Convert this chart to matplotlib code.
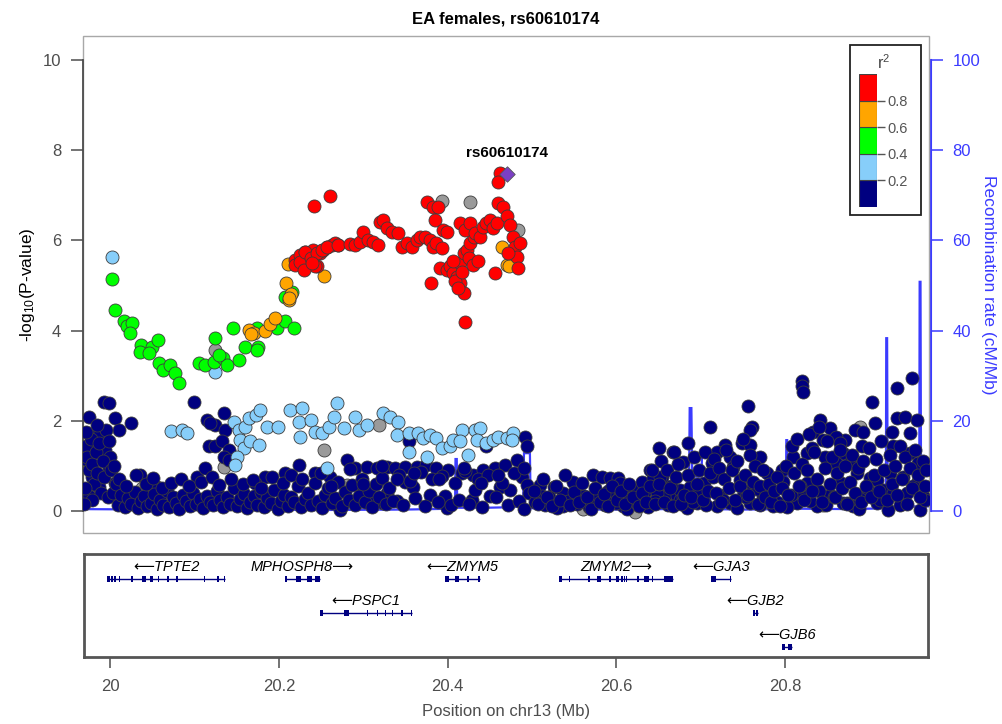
import numpy as np
import matplotlib.pyplot as plt
from matplotlib.patches import Rectangle

plt.rcParams['font.family'] = ['Liberation Sans', 'DejaVu Sans']
plt.rcParams['mathtext.fontset'] = 'custom'
plt.rcParams['mathtext.rm'] = 'Liberation Sans'
plt.rcParams['mathtext.it'] = 'Liberation Sans:italic'

# ---- association results, grouped by LD (r^2) bin with the lead SNP ----
lead_snp = 'rs60610174'
lead_pos = 20.4704
lead_logp = 7.47

red_pos = [20.2417, 20.2614, 20.2196, 20.2255, 20.2315, 20.2374, 20.2413, 20.2453, 20.2492, 20.253,
           20.257, 20.263, 20.267, 20.271, 20.22, 20.226, 20.232, 20.238, 20.2436, 20.2456,
           20.2516, 20.2575, 20.2705, 20.23, 20.24, 20.2847, 20.2906, 20.2965, 20.3004, 20.3063,
           20.3122, 20.318, 20.3202, 20.324, 20.328, 20.334, 20.342, 20.346, 20.352, 20.358,
           20.3636, 20.3675, 20.3734, 20.379, 20.383, 20.387, 20.393, 20.3754, 20.383, 20.389,
           20.385, 20.395, 20.399, 20.391, 20.399, 20.403, 20.407, 20.411, 20.415, 20.419,
           20.381, 20.415, 20.419, 20.423, 20.427, 20.431, 20.415, 20.421, 20.427, 20.4325,
           20.4384, 20.4423, 20.446, 20.45, 20.454, 20.458, 20.46, 20.466, 20.47, 20.474,
           20.478, 20.48, 20.482, 20.484, 20.486, 20.472, 20.462, 20.46, 20.456, 20.4207,
           20.409, 20.413, 20.417, 20.406, 20.425, 20.43, 20.436]
red_logp = [6.76, 6.98, 5.56, 5.68, 5.75, 5.64, 5.79, 5.42, 5.71, 5.79,
            5.86, 5.90, 5.94, 5.90, 5.45, 5.53, 5.75, 5.60, 5.42, 5.71,
            5.79, 5.86, 5.90, 5.34, 5.49, 5.92, 5.90, 5.97, 6.19, 6.01,
            5.97, 5.90, 6.41, 6.45, 6.27, 6.19, 6.16, 5.86, 5.94, 5.86,
            6.01, 6.08, 6.08, 6.01, 5.86, 5.94, 5.83, 6.86, 6.75, 6.75,
            6.45, 6.23, 6.19, 5.38, 5.34, 5.42, 5.27, 5.19, 5.05, 4.83,
            5.05, 5.49, 5.71, 5.79, 5.94, 6.08, 6.38, 6.23, 6.38, 6.16,
            6.08, 6.30, 6.38, 6.45, 6.27, 6.38, 6.82, 6.75, 6.53, 6.34,
            6.08, 5.86, 5.64, 5.38, 5.94, 5.71, 7.49, 7.30, 5.27, 4.20,
            5.10, 4.95, 5.30, 5.55, 5.60, 5.45, 5.55]

orange_pos = [20.2114, 20.209, 20.2153, 20.212, 20.165, 20.171, 20.1845, 20.19, 20.196, 20.2536,
              20.464, 20.47, 20.473, 20.168, 20.213]
orange_logp = [5.48, 5.05, 4.81, 4.68, 4.01, 3.95, 3.98, 4.15, 4.27, 5.21,
               5.86, 5.45, 5.42, 3.92, 4.73]

green_pos = [20.0027, 20.0071, 20.017, 20.021, 20.027, 20.025, 20.038, 20.0505, 20.0576, 20.1247,
             20.1463, 20.161, 20.176, 20.1747, 20.198, 20.2074, 20.2188, 20.208, 20.216, 20.0367,
             20.0466, 20.0584, 20.064, 20.072, 20.078, 20.082, 20.1057, 20.1135, 20.1235, 20.135,
             20.139, 20.153, 20.1294, 20.175]
green_logp = [5.14, 4.46, 4.22, 4.09, 4.16, 3.94, 3.68, 3.64, 3.78, 3.83,
              4.05, 3.64, 3.64, 4.05, 4.05, 4.22, 4.06, 4.75, 4.86, 3.53,
              3.50, 3.27, 3.13, 3.24, 3.05, 2.83, 3.27, 3.24, 3.31, 3.39,
              3.24, 3.35, 3.46, 3.57]

lblue_pos = [20.0027, 20.0733, 20.086, 20.092, 20.147, 20.153, 20.155, 20.159, 20.151, 20.149,
             20.161, 20.165, 20.173, 20.1786, 20.167, 20.1767, 20.1865, 20.2, 20.214, 20.228,
             20.224, 20.226, 20.238, 20.2436, 20.2516, 20.2595, 20.2654, 20.2693, 20.2773, 20.291,
             20.295, 20.305, 20.2575, 20.1255, 20.3243, 20.332, 20.342, 20.34, 20.354, 20.3656,
             20.3715, 20.379, 20.387, 20.393, 20.403, 20.407, 20.417, 20.415, 20.4246, 20.354,
             20.3754, 20.4325, 20.4384, 20.4345, 20.446, 20.454, 20.46, 20.47, 20.478, 20.476]
lblue_logp = [5.64, 1.78, 1.80, 1.72, 1.98, 1.80, 1.57, 1.39, 1.20, 1.02,
              1.87, 2.06, 2.13, 2.24, 1.54, 1.46, 1.87, 1.87, 2.24, 2.28,
              1.98, 1.65, 2.02, 1.76, 1.72, 1.87, 2.09, 2.39, 1.83, 2.09,
              1.80, 1.91, 0.95, 3.09, 2.17, 2.09, 1.98, 1.69, 1.72, 1.72,
              1.61, 1.69, 1.61, 1.39, 1.43, 1.57, 1.80, 1.54, 1.24, 1.31,
              1.20, 1.80, 1.83, 1.57, 1.50, 1.57, 1.65, 1.61, 1.72, 1.57]

navy_pos = [19.9934, 19.9993, 20.1, 20.0071, 20.011, 20.026, 19.9756, 19.9834, 19.9894, 19.9795,
            19.9894, 19.9953, 20.0012, 19.9993, 19.9737, 19.9795, 19.9875, 20.0071, 19.9756, 20.0367,
            20.0564, 20.1037, 20.1135, 20.1156, 20.1255, 20.1353, 20.137, 20.1176, 20.1255, 20.1333,
            20.141, 20.1353, 20.1195, 20.141, 20.224, 20.208, 20.1845, 20.1727, 20.2436, 20.2614,
            20.281, 20.291, 20.305, 20.3166, 20.2989, 20.3107, 20.2732, 20.1845, 20.157,
            20.328, 20.338, 20.35, 20.3636, 20.375, 20.387, 20.401, 20.417, 20.4305, 20.4423,
            20.4562, 20.468, 20.4818, 20.4917, 20.4937, 20.4877, 20.4937, 20.35, 20.3596, 20.379,
            20.397, 20.399, 20.4286, 20.4325, 20.4503, 20.462, 20.474, 20.328, 20.34, 20.3243,
            20.354, 20.446, 20.5094, 20.5255, 20.5114, 20.537, 20.549, 20.5567, 20.5725, 20.5824,
            20.592, 20.602, 20.604, 20.5727, 20.596, 20.608, 20.62, 20.6297, 20.6395, 20.6435,
            20.6533, 20.6505, 20.667, 20.657, 20.671, 20.537,
            20.668, 20.685, 20.679, 20.7105, 20.7558, 20.76, 20.7578, 20.819, 20.819, 20.82,
            20.8406, 20.8524, 20.8327, 20.9017, 20.882, 20.8918, 20.9056, 20.9313, 20.949, 20.9313,
            20.941, 20.955, 20.9254, 20.947, 20.9274, 20.947, 20.9568, 20.8899, 20.8702, 20.86,
            20.868, 20.876, 20.728, 20.7184, 20.734, 20.748, 20.7578, 20.7696, 20.7775, 20.7953,
            20.809, 20.825, 20.8307, 20.8465, 20.86, 20.8445, 20.864, 20.6513, 20.6415, 20.675,
            20.687, 20.703, 20.7125, 20.7144, 20.738, 20.746, 20.7617, 20.7498, 20.7735, 20.797,
            20.813, 20.825, 20.8367, 20.8524, 20.868, 20.884, 20.8997, 20.9076, 20.8918, 20.9155,
            20.9214, 20.9234, 20.939, 20.955, 20.9628, 20.9589, 20.943, 20.6948, 20.7184, 20.734,
            20.7578, 20.7853, 20.8208, 20.88, 20.9076, 20.675, 20.6474,
            # dense cluster at the left edge
            19.972, 19.974, 19.976, 19.978, 19.98, 19.982, 19.984, 19.986, 19.988, 19.99,
            19.992, 19.994, 19.996, 19.998, 20.0, 20.002, 19.971, 19.973, 19.979, 19.985,
            19.97, 20.004, 20.006, 20.008,
            # low band
            20.010, 20.014, 20.018, 20.022, 20.026, 20.030, 20.034, 20.037, 20.041, 20.045,
            20.049, 20.053, 20.056, 20.060, 20.064, 20.068, 20.071, 20.075, 20.079, 20.083,
            20.087, 20.091, 20.095, 20.099, 20.103, 20.107, 20.111, 20.115, 20.119, 20.123,
            20.127, 20.131, 20.135, 20.139, 20.143, 20.147, 20.151, 20.155, 20.159, 20.163,
            20.167, 20.171, 20.175, 20.179, 20.183, 20.187, 20.191, 20.195, 20.199, 20.203,
            20.207, 20.211, 20.215, 20.219, 20.223, 20.227, 20.231, 20.235, 20.239, 20.243,
            20.247, 20.251, 20.255, 20.259, 20.263, 20.267, 20.271, 20.275, 20.279, 20.283,
            20.287, 20.291, 20.295, 20.299, 20.303, 20.307, 20.311, 20.315, 20.319, 20.323,
            20.327, 20.331, 20.336, 20.343, 20.347, 20.356, 20.361, 20.369, 20.373, 20.382,
            20.389, 20.394, 20.404, 20.409, 20.414, 20.421, 20.426, 20.436, 20.441, 20.448,
            20.457, 20.465, 20.471, 20.479, 20.485, 20.49, 20.497, 20.503, 20.515, 20.52,
            20.53, 20.543, 20.553, 20.561, 20.567, 20.577, 20.586, 20.59, 20.599, 20.612,
            20.616, 20.625, 20.633, 20.637, 20.646, 20.661, 20.664, 20.679, 20.683, 20.691,
            20.698, 20.706, 20.722, 20.726, 20.742, 20.753, 20.766, 20.77, 20.781, 20.79,
            20.802, 20.806, 20.817, 20.829, 20.839, 20.848, 20.857, 20.865, 20.873, 20.887,
            20.896, 20.912, 20.927, 20.935, 20.951, 20.965,
            # second row, 20.0 - 20.5
            20.012, 20.02, 20.031, 20.043, 20.052, 20.062, 20.073, 20.085, 20.094, 20.108,
            20.121, 20.13, 20.144, 20.158, 20.17, 20.18, 20.192, 20.205, 20.215, 20.228,
            20.25, 20.262, 20.285, 20.3, 20.322, 20.34, 20.36, 20.39, 20.42, 20.44,
            20.46, 20.49,
            # 20.5 - 20.65
            20.502, 20.507, 20.513, 20.518, 20.524, 20.528, 20.533, 20.539, 20.545, 20.55,
            20.555, 20.559, 20.565, 20.57, 20.575, 20.58, 20.585, 20.59, 20.595, 20.6,
            20.605, 20.61, 20.615, 20.62, 20.626, 20.63, 20.635, 20.64, 20.645, 20.65,
            # 20.65 - 20.97
            20.652, 20.656, 20.66, 20.663, 20.667, 20.67, 20.673, 20.676, 20.68, 20.684,
            20.688, 20.692, 20.695, 20.698, 20.702, 20.705, 20.708, 20.711, 20.715, 20.718,
            20.721, 20.724, 20.727, 20.73, 20.733, 20.736, 20.74, 20.743, 20.746, 20.749,
            20.752, 20.755, 20.758, 20.761, 20.764, 20.767, 20.77, 20.773, 20.776, 20.78,
            20.783, 20.786, 20.79, 20.793, 20.796, 20.8, 20.803, 20.807, 20.81, 20.813,
            20.816, 20.819, 20.822, 20.825, 20.828, 20.831, 20.834, 20.837, 20.84, 20.843,
            20.846, 20.849, 20.852, 20.855, 20.858, 20.861, 20.864, 20.867, 20.87, 20.873,
            20.876, 20.879, 20.882, 20.885, 20.889, 20.892, 20.895, 20.898, 20.901, 20.904,
            20.907, 20.91, 20.913, 20.916, 20.92, 20.923, 20.926, 20.929, 20.932, 20.935,
            20.938, 20.941, 20.944, 20.947, 20.95, 20.953, 20.956, 20.959, 20.962, 20.965,
            20.966]
navy_logp = [2.42, 2.39, 2.42, 2.06, 1.80, 1.94, 2.09, 1.76, 1.76, 1.43,
             1.43, 1.35, 1.20, 0.95, 1.13, 0.76, 0.54, 0.61, 0.32, 0.80,
             0.54, 0.76, 0.95, 2.02, 1.91, 2.17, 1.80, 1.43, 1.43, 1.54,
             1.35, 1.20, 1.94, 1.13, 1.02, 0.84, 0.76, 0.61, 0.84, 0.76,
             1.13, 0.95, 0.98, 0.95, 0.47, 0.17, 0.02, 0.10, 0.47,
             0.98, 0.95, 0.98, 0.98, 1.02, 0.95, 0.91, 0.84, 0.80, 0.91,
             0.95, 1.02, 1.13, 1.65, 1.43, 0.76, 0.58, 0.65, 0.54, 0.35,
             0.32, 0.06, 0.24, 0.47, 0.32, 0.54, 0.47, 0.39, 0.21, 0.17,
             1.54, 1.43, 0.58, 0.54, 0.32, 0.39, 0.65, 0.32, 0.80, 0.76,
             0.72, 0.72, 0.61, 0.24, 0.32, 0.10, 0.47, 0.65, 0.91, 0.72,
             0.76, 1.40, 1.31, 0.32, 0.32, 0.10,
             1.31, 1.50, 1.09, 1.87, 2.33, 1.87, 1.80, 2.87, 2.76, 2.64,
             2.02, 1.83, 1.76, 2.42, 1.80, 1.76, 1.94, 2.72, 2.94, 2.06,
             2.09, 2.02, 1.76, 1.72, 1.43, 1.28, 1.06, 1.43, 1.57, 1.65,
             1.28, 1.06, 1.46, 1.31, 1.20, 1.50, 1.46, 1.20, 0.84, 0.91,
             1.20, 1.28, 1.39, 1.20, 1.06, 1.57, 1.50, 0.76, 0.91, 0.47,
             0.54, 0.61, 1.06, 0.76, 0.98, 0.69, 0.54, 0.32, 0.32, 0.65,
             0.17, 0.61, 0.10, 0.35, 0.17, 0.84, 0.72, 0.69, 0.32, 0.47,
             0.02, 0.84, 0.76, 0.61, 0.32, 0.02, 0.39, 0.17, 0.10, 0.17,
             0.17, 0.10, 0.32, 0.10, 0.17, 0.24, 0.39,
             1.45, 1.20, 0.90, 1.60, 1.05, 0.60, 1.30, 0.85, 1.50, 0.40,
             1.10, 0.75, 1.80, 0.30, 1.55, 0.90, 0.50, 1.75, 0.25, 1.90,
             0.15, 0.40, 1.00, 0.60,
             0.12, 0.35, 0.08, 0.28, 0.15, 0.42, 0.06, 0.22, 0.33, 0.10,
             0.18, 0.38, 0.05, 0.25, 0.14, 0.44, 0.08, 0.30, 0.17, 0.05,
             0.36, 0.21, 0.10, 0.40, 0.16, 0.27, 0.07, 0.34, 0.20, 0.12,
             0.45, 0.24, 0.08, 0.30, 0.15, 0.50, 0.10, 0.26, 0.38, 0.06,
             0.20, 0.32, 0.12, 0.42, 0.09, 0.28, 0.17, 0.47, 0.05, 0.23,
             0.36, 0.11, 0.30, 0.19, 0.55, 0.08, 0.27, 0.40, 0.14, 0.62,
             0.22, 0.07, 0.35, 0.50, 0.18, 0.29, 0.65, 0.10, 0.41, 0.24,
             0.58, 0.13, 0.33, 0.70, 0.20, 0.45, 0.09, 0.60, 0.30, 0.74,
             0.15, 0.50, 0.22, 0.80, 0.12, 0.66, 0.28, 0.86, 0.10, 0.70,
             0.20, 0.78, 0.12, 0.62, 0.25, 0.88, 0.15, 0.70, 0.08, 0.80,
             0.30, 0.62, 0.14, 0.84, 0.22, 0.05, 0.40, 0.20, 0.12, 0.30,
             0.06, 0.22, 0.15, 0.33, 0.08, 0.26, 0.12, 0.44, 0.18, 0.05,
             0.28, 0.14, 0.38, 0.09, 0.22, 0.12, 0.56, 0.30, 0.07, 0.20,
             0.44, 0.14, 0.36, 0.25, 0.06, 0.30, 0.48, 0.12, 0.40, 0.20,
             0.08, 0.36, 0.55, 0.22, 0.44, 0.12, 0.30, 0.62, 0.18, 0.05,
             0.50, 0.25, 0.40, 0.14, 0.55, 0.24,
             0.70, 0.55, 0.80, 0.60, 0.72, 0.50, 0.62, 0.70, 0.55, 0.65,
             0.75, 0.58, 0.70, 0.60, 0.68, 0.50, 0.75, 0.62, 0.80, 0.70,
             0.85, 0.55, 0.92, 0.60, 1.00, 0.70, 0.85, 0.70, 0.95, 0.62,
             0.80, 0.95,
             0.45, 0.15, 0.70, 0.30, 0.10, 0.55, 0.25, 0.80, 0.12, 0.42,
             0.20, 0.62, 0.30, 0.05, 0.50, 0.20, 0.38, 0.10, 0.55, 0.25,
             0.45, 0.15, 0.60, 0.30, 0.10, 0.40, 0.20, 0.55, 0.15, 0.60,
             1.10, 0.20, 0.90, 0.50, 0.10, 0.75, 1.05, 0.15, 0.35, 0.80,
             0.30, 1.20, 0.60, 0.90, 0.25, 1.30, 0.45, 0.85, 1.15, 0.40,
             0.95, 0.20, 0.70, 1.35, 0.50, 0.90, 0.25, 1.10, 0.55, 1.60,
             0.80, 0.35, 1.25, 0.65, 1.00, 0.15, 0.55, 0.90, 0.30, 0.60,
             0.20, 0.45, 0.75, 0.10, 0.50, 1.00, 0.35, 1.45, 0.85, 1.60,
             0.55, 1.05, 0.25, 0.90, 1.70, 0.45, 1.30, 0.70, 1.85, 0.20,
             0.95, 1.55, 0.60, 1.20, 0.30, 0.85, 1.35, 0.50, 1.00, 0.15,
             0.65, 1.25, 0.40, 0.95, 0.20, 1.10, 0.55, 1.40, 0.30, 0.80,
             1.15, 0.45, 1.55, 0.90, 0.25, 1.25, 0.60, 1.00, 0.35, 1.45,
             0.70, 1.20, 0.15, 0.95, 0.50, 1.35, 0.80, 0.30, 1.10, 0.55,
             0.90]

gray_pos = [20.655, 20.8445, 20.888, 20.6218, 20.1353, 20.2536, 20.281, 20.3186, 20.0387, 20.1247,
            20.393, 20.427, 20.463, 20.484, 20.3, 20.9, 20.56]
gray_logp = [0.35, 0.13, 1.87, -0.02, 0.98, 1.35, 0.58, 1.91, 0.50, 3.57,
             6.88, 6.85, 7.48, 6.23, 6.0, 0.6, 0.05]

# ---- recombination rate (cM/Mb) ----
recomb_pos = [19.969, 20.05, 20.15, 20.25, 20.35, 20.409, 20.4095, 20.411, 20.4115, 20.44,
              20.4445, 20.4455, 20.47, 20.4895, 20.4905, 20.4975, 20.4985, 20.55, 20.62, 20.6855,
              20.6865, 20.6885, 20.6895, 20.7005, 20.7012, 20.7095, 20.7105, 20.75, 20.8002, 20.8008,
              20.8018, 20.8025, 20.88, 20.9185, 20.919, 20.92, 20.9207, 20.958, 20.9585, 20.9595,
              20.9602, 20.97]
recomb_rate = [0.4, 0.3, 0.3, 0.2, 0.3, 0.5, 11.5, 11.5, 0.7, 0.7,
               1.6, 0.7, 0.8, 1.0, 12.8, 12.8, 0.6, 0.3, 0.3, 0.5,
               22.8, 22.8, 7.6, 7.6, 13.9, 13.9, 0.4, 0.3, 0.4, 15.7,
               15.7, 0.5, 0.4, 0.6, 38.3, 38.3, 1.0, 1.0, 50.8, 50.8,
               1.0, 1.0]

# ---- genes in the region ----
gene_names = ['TPTE2', 'MPHOSPH8', 'ZMYM5', 'PSPC1', 'ZMYM2', 'GJA3', 'GJB2', 'GJB6']
gene_start = [19.9965, 20.207, 20.3974, 20.2484, 20.5322, 20.7117, 20.7617, 20.796]
gene_end = [20.1365, 20.2484, 20.438, 20.358, 20.667, 20.7361, 20.768, 20.8083]
gene_strand = ['-', '+', '-', '-', '+', '-', '-', '-']
gene_row = [0, 0, 0, 1, 0, 0, 1, 2]
gene_exons = [
    [(19.9965, 19.9993), (20.0005, 20.0032), (20.004, 20.0064), (20.0103, 20.0118), (20.0248, 20.026),
     (20.0378, 20.0426), (20.0466, 20.0505), (20.0564, 20.0576), (20.0674, 20.0686), (20.0781, 20.0804),
     (20.1108, 20.112), (20.1266, 20.1277), (20.1348, 20.1365)],
    [(20.207, 20.209), (20.22, 20.2259), (20.2338, 20.2397), (20.2425, 20.2484)],
    [(20.3974, 20.4014), (20.4092, 20.4132), (20.423, 20.425), (20.436, 20.438)],
    [(20.2484, 20.2524), (20.2772, 20.2831), (20.304, 20.3056), (20.3158, 20.3174), (20.3257, 20.3273),
     (20.3335, 20.3352), (20.345, 20.3466), (20.356, 20.358)],
    [(20.5322, 20.5351), (20.5434, 20.545), (20.5665, 20.5685), (20.5772, 20.5816), (20.5914, 20.5926),
     (20.6001, 20.6032), (20.606, 20.6072), (20.6087, 20.6099), (20.6111, 20.6123), (20.625, 20.6265),
     (20.6324, 20.6387), (20.6418, 20.6433), (20.6561, 20.667)],
    [(20.7117, 20.7184), (20.7345, 20.7361)],
    [(20.7617, 20.7645), (20.7655, 20.768)],
    [(20.796, 20.7995), (20.803, 20.8083)],
]

r2_edges = [0.0, 0.2, 0.4, 0.6, 0.8, 1.0]
r2_colors = ['#000080', '#87CEFA', '#00FF00', '#FFA500', '#FF0000']
na_color = '#9a9a9a'
recomb_color = '#3b3bff'
axis_gray = '#4d4d4d'

xlo, xhi = 19.9685, 20.9695

fig = plt.figure(figsize=(10.02, 7.24), dpi=100)
ax = fig.add_axes([0.0825, 0.2638, 0.8446, 0.6858])
gx = fig.add_axes([0.0835, 0.0925, 0.8426, 0.1423])

# recombination rate on a second y axis, kept underneath the points
ax2 = ax.twinx()
ax2.plot(recomb_pos, recomb_rate, color=recomb_color, lw=1.6, solid_joinstyle='miter')
ax2.set_ylim(-4.9, 105.2)
ax2.set_yticks([0, 20, 40, 60, 80, 100])
ax2.tick_params(axis='y', colors=recomb_color, labelsize=12, length=8.5, width=1.1, pad=7)
for side in ['left', 'top', 'bottom']:
    ax2.spines[side].set_visible(False)
ax2.spines['right'].set_color(recomb_color)
ax2.spines['right'].set_linewidth(1.5)
ax2.spines['right'].set_bounds(0, 100)
ax2.spines['right'].set_position(('outward', 1.5))
ax2.set_ylabel('Recombination rate (cM/Mb)', color=recomb_color, fontsize=12.5,
               rotation=270, labelpad=11)
ax.set_zorder(ax2.get_zorder() + 1)
ax.patch.set_visible(False)

pt = dict(s=88, edgecolors='#3c3c3c', linewidths=0.6)
ax.scatter(gray_pos, gray_logp, c=na_color, zorder=2, **pt)
ax.scatter(navy_pos, navy_logp, c=r2_colors[0], zorder=3, **pt)
ax.scatter(lblue_pos, lblue_logp, c=r2_colors[1], zorder=4, **pt)
ax.scatter(green_pos, green_logp, c=r2_colors[2], zorder=5, **pt)
ax.scatter(orange_pos, orange_logp, c=r2_colors[3], zorder=6, **pt)
ax.scatter(red_pos, red_logp, c=r2_colors[4], zorder=7, **pt)
ax.scatter([lead_pos], [lead_logp], marker='D', s=62, c='#7b3fc4',
           edgecolors='#555555', linewidths=0.6, zorder=8)
ax.text(lead_pos, lead_logp + 0.47, lead_snp, ha='center', va='center',
        fontsize=11, fontweight='bold')

ax.set_xlim(xlo, xhi)
ax.set_ylim(-0.49, 10.52)
ax.set_xticks([])
ax.set_yticks([0, 2, 4, 6, 8, 10])
ax.tick_params(axis='y', colors=axis_gray, labelsize=12, length=8.5, width=1.1, pad=7)
for side in ['top', 'bottom', 'right']:
    ax.spines[side].set_visible(False)
ax.spines['left'].set_bounds(0, 10)
ax.spines['left'].set_color(axis_gray)
ax.spines['left'].set_linewidth(1.3)
ax.add_patch(Rectangle((0, 0), 1, 1, transform=ax.transAxes, fill=False,
                       edgecolor='#a8a8a8', lw=1.0, zorder=0.5, clip_on=False))
ax.set_ylabel(r'-log$_{10}$(P-value)', fontsize=12.5, labelpad=4)
ax.set_title('EA females, rs60610174', fontsize=12, fontweight='bold', pad=9)

# gene track
row_y = [78, 44, 10]
exon_h = 6
gx.set_xlim(xlo, xhi)
gx.set_ylim(0, 103)
for name, s, e, strand, row, exons in zip(gene_names, gene_start, gene_end,
                                          gene_strand, gene_row, gene_exons):
    y = row_y[row]
    gx.plot([s, e], [y, y], color='#000080', lw=1.0, solid_capstyle='butt')
    for es, ee in exons:
        w = max(ee - es, 0.0018)
        gx.add_patch(Rectangle((es, y - exon_h / 2), w, exon_h, color='#000080', lw=0))
    label = '\u27f5' + name if strand == '-' else name + '\u27f6'
    gx.text((s + e) / 2, y + 12, label, ha='center', va='center',
            fontsize=10.5, style='italic')
gx.set_yticks([])
gx.set_xticks([20.0, 20.2, 20.4, 20.6, 20.8])
gx.set_xticklabels(['20', '20.2', '20.4', '20.6', '20.8'])
gx.tick_params(axis='x', colors=axis_gray, labelsize=12, length=8, width=1.1, pad=8)
for side in gx.spines.values():
    side.set_color('#555555')
    side.set_linewidth(2)
gx.set_xlabel('Position on chr13 (Mb)', color=axis_gray, fontsize=12, labelpad=7)

# r^2 legend
cax = fig.add_axes([859 / 1002, 1 - 206.7 / 724, 17.7 / 1002, 132.4 / 724])
cax.bar([0] * 5, np.diff(r2_edges), bottom=r2_edges[:-1], width=1.0, color=r2_colors,
        edgecolor='#444444', linewidth=0.8, align='center')
cax.set_xlim(-0.5, 0.5)
cax.set_ylim(0, 1)
cax.set_xticks([])
cax.yaxis.tick_right()
cax.set_yticks([0.2, 0.4, 0.6, 0.8])
cax.set_yticklabels(['0.2', '0.4', '0.6', '0.8'])
cax.tick_params(axis='y', colors='#555555', labelsize=10.5, length=6, width=1.0, pad=2)
for side in cax.spines.values():
    side.set_visible(False)
fig.patches.append(Rectangle((849.5 / 1002, 1 - 215 / 724), 71 / 1002, 170 / 724,
                             transform=fig.transFigure, fill=False,
                             edgecolor='#222222', lw=1.3))
fig.text(884 / 1002, 1 - 63 / 724, 'r$^2$', ha='center', va='center',
         fontsize=11.5, color='#444444')

fig.savefig('out.png', dpi=100)
